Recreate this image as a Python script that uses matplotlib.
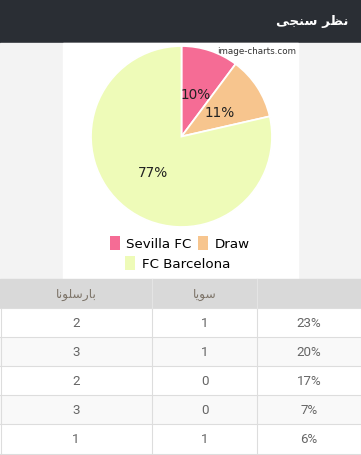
import numpy as np
import matplotlib.pyplot as plt
from matplotlib.patches import Rectangle

# pie data
teams = ['Sevilla FC', 'Draw', 'FC Barcelona']
votes = [10, 11, 77]
pct_labels = ['10%', '11%', '77%']
colors = ['#f56c95', '#f7c58e', '#eefbb8']

# table data (arabic in presentation forms, visual order)
title = '\ufef0\ufea0\ufee8\ufeb3 \ufeae\ufec8\ufee7'
col_headers = ['\ufe8e\ufee7\ufeee\ufee0\ufeb3\ufead\ufe8e\ufe91', '\ufe8e\ufef3\ufeee\ufeb3', '']
barca_goals = [2, 3, 2, 3, 1]
sevilla_goals = [1, 1, 0, 0, 1]
chances = ['23%', '20%', '17%', '7%', '6%']

W, H = 361, 456
fig = plt.figure(figsize=(W / 100, H / 100), dpi=100)
bg = fig.add_axes([0, 0, 1, 1])
bg.set_xlim(0, W)
bg.set_ylim(H, 0)
bg.axis('off')

# header bar
bg.add_patch(Rectangle((0, 0), W, 44, color='#2a2e34'))
bg.text(348, 22, title, color='white', fontsize=9.5, fontweight='bold',
        ha='right', va='center', family=['DejaVu Sans'])

# chart area
bg.add_patch(Rectangle((0, 44), W, 236, color='#f3f3f3'))
bg.add_patch(Rectangle((63, 44), 235, 236, color='white'))
bg.text(296, 52, 'image-charts.com', fontsize=6.3, color='#333333',
        ha='right', va='center')

# table
row_h = 29
bg.add_patch(Rectangle((0, 280), W, 29, color='#d9d9d9'))
for i in range(len(chances)):
    y0 = 309 + i * row_h
    face = '#f9f9f9' if i % 2 == 1 else 'white'
    bg.add_patch(Rectangle((0, y0), W, row_h, facecolor=face, edgecolor='none'))
    bg.plot([0, W], [y0, y0], color='#dddddd', lw=0.8)
bg.plot([0, W], [455, 455], color='#dddddd', lw=0.8)
for x in [0.5, 152, 257, 360.5]:
    bg.plot([x, x], [309, 456], color='#dddddd', lw=0.8)
for x in [152, 257]:
    bg.plot([x, x], [280, 309], color='#e4e4e4', lw=0.8)

col_x = [76, 204.5, 309]
for j, h in enumerate(col_headers):
    bg.text(col_x[j], 295, h, fontsize=8.8, color='#7d7469', ha='center',
            va='center', family=['DejaVu Sans'])
for i in range(len(chances)):
    yc = 309 + i * row_h + row_h / 2
    vals = [str(barca_goals[i]), str(sevilla_goals[i]), chances[i]]
    for j, v in enumerate(vals):
        bg.text(col_x[j], yc, v, fontsize=9.6, color='#666666', ha='center',
                va='center', family=['Roboto', 'DejaVu Sans'])

# pie
cx, cy, r = 181.5, 137.5, 90.5
ax = fig.add_axes([(cx - r) / W, 1 - (cy + r) / H, 2 * r / W, 2 * r / H])
wedges, _ = ax.pie(votes, colors=colors, startangle=90, counterclock=False,
                   wedgeprops=dict(edgecolor='white', linewidth=1.3))
ax.set_xlim(-1, 1)
ax.set_ylim(-1, 1)
ax.axis('off')
for w, lab in zip(wedges, pct_labels):
    mid = np.deg2rad((w.theta1 + w.theta2) / 2)
    ax.text(0.5 * np.cos(mid), 0.5 * np.sin(mid), lab, fontsize=9.8,
            color='#222222', ha='center', va='center')

# legend, two rows like the original
leg_kw = dict(frameon=False, fontsize=9.6, handlelength=0.75, handleheight=1.25,
              handletextpad=0.5, columnspacing=0.5, borderpad=0)
leg1 = fig.legend(wedges[:2], teams[:2], loc='center', ncol=2,
                  bbox_to_anchor=(180 / W, 1 - 244 / H), **leg_kw)
leg2 = fig.legend(wedges[2:], teams[2:], loc='center', ncol=1,
                  bbox_to_anchor=(178 / W, 1 - 264 / H), **leg_kw)
for leg in (leg1, leg2):
    for h in leg.legend_handles:
        h.set_edgecolor('none')

fig.savefig('out.png', dpi=100)
